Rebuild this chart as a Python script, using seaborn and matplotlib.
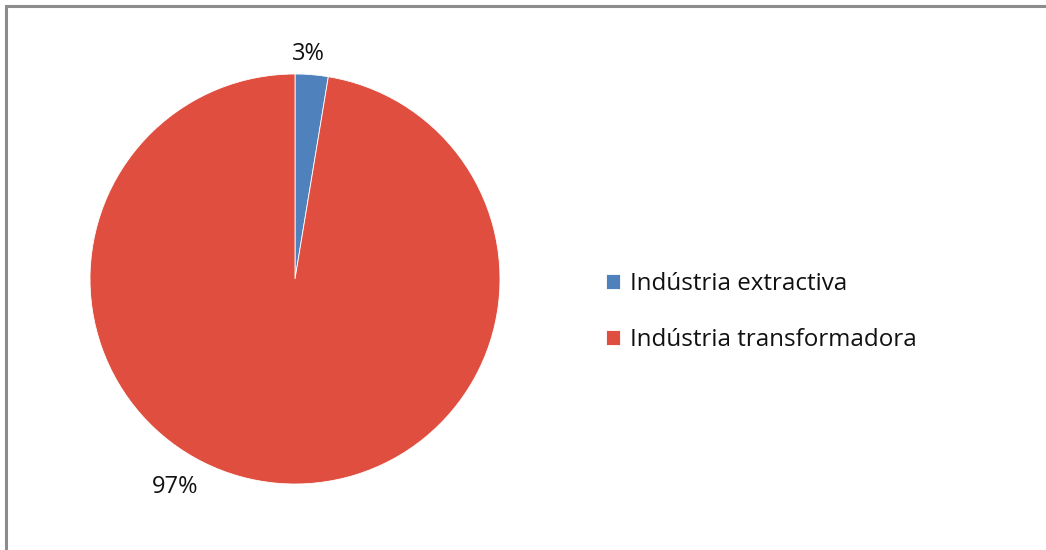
import matplotlib
matplotlib.use("Agg")
import matplotlib.pyplot as plt
from matplotlib.patches import Rectangle
import seaborn as sns

sns.set_theme(style="white")
plt.rcParams['font.family'] = ['Open Sans', 'DejaVu Sans']

categories = ["Indústria extractiva", "Indústria transformadora"]
shares = [2.6, 97.4]
colors = ["#4F81BD", "#E04E3F"]

fig = plt.figure(figsize=(10.46, 5.5), dpi=100)
fig.patch.set_facecolor("white")

# chart area frame (only its top and left edges fall inside the canvas)
fig.patches.append(Rectangle((6 / 1046, -0.5), 2.0, 1 - 6 / 550 + 0.5,
                             transform=fig.transFigure, fill=False,
                             edgecolor="#8c8c8c", linewidth=2.2, zorder=0))

ax = fig.add_axes([90 / 1046, 66 / 550, 410 / 1046, 410 / 550])
wedges, texts, autotexts = ax.pie(
    shares, colors=colors, startangle=90, counterclock=False,
    autopct="%.0f%%", pctdistance=1.11, radius=1,
    wedgeprops=dict(edgecolor="white", linewidth=0.6),
    textprops=dict(fontsize=17, color="#111111"))
ax.set_xlim(-1, 1)
ax.set_ylim(-1, 1)
ax.set_aspect("equal")
ax.axis("off")

# place the large-share label at the lower left of the pie
autotexts[0].set_position((0.063, 1.10))
autotexts[1].set_position((-0.585, -1.015))

leg = fig.legend(wedges, categories, loc="center left",
                 bbox_to_anchor=(584 / 1046, 1 - 312 / 550), frameon=False,
                 fontsize=17.4, handlelength=0.6, handleheight=0.6,
                 handletextpad=0.4, labelspacing=1.3)
for t in leg.get_texts():
    t.set_color("#111111")

fig.savefig("out.png", dpi=100, facecolor="white")
